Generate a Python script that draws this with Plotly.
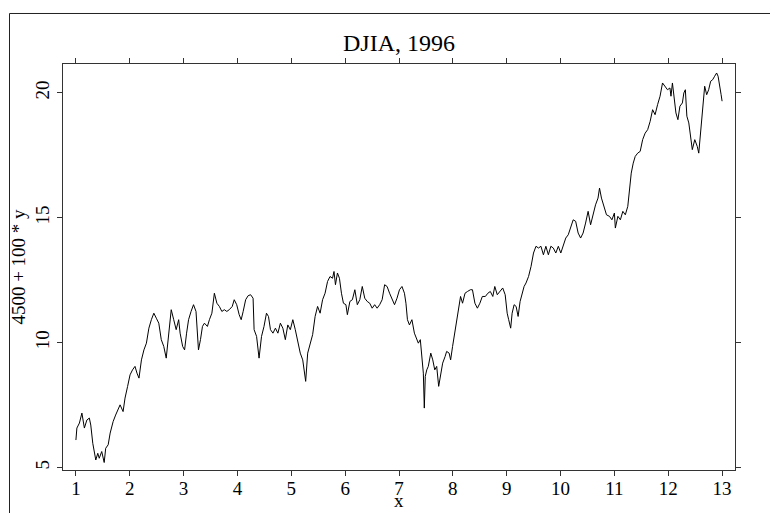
import plotly.graph_objects as go

x_vals = [1.000,1.018,1.065,1.111,1.157,1.203,1.249,1.276,1.313,1.341,1.369,1.406,1.433,1.479,1.525,1.553,1.599,1.636,1.691,1.737,
1.783,1.820,1.876,1.912,1.959,2.005,2.051,2.097,2.134,2.171,2.217,2.263,2.309,2.355,2.401,2.447,2.493,2.539,2.585,2.631,
2.677,2.724,2.770,2.816,2.862,2.908,2.935,2.982,3.018,3.055,3.092,3.138,3.184,3.230,3.276,3.313,3.350,3.387,3.442,3.479,
3.525,3.571,3.618,3.664,3.710,3.756,3.802,3.848,3.903,3.940,3.986,4.032,4.069,4.106,4.152,4.198,4.244,4.290,4.309,4.355,
4.382,4.401,4.447,4.493,4.539,4.576,4.613,4.659,4.705,4.751,4.797,4.843,4.889,4.935,4.982,5.028,5.074,5.120,5.166,5.212,
5.240,5.267,5.304,5.350,5.396,5.442,5.488,5.535,5.581,5.627,5.673,5.719,5.765,5.793,5.820,5.857,5.894,5.931,5.968,6.014,
6.041,6.088,6.134,6.180,6.226,6.272,6.318,6.364,6.410,6.456,6.502,6.548,6.594,6.641,6.687,6.733,6.779,6.825,6.871,6.917,
6.963,7.009,7.055,7.101,7.129,7.157,7.194,7.240,7.286,7.332,7.359,7.396,7.424,7.452,7.470,7.488,7.516,7.544,7.590,7.627,
7.664,7.700,7.737,7.774,7.811,7.857,7.885,7.931,7.959,7.995,8.032,8.069,8.106,8.143,8.180,8.226,8.272,8.327,8.364,8.410,
8.456,8.502,8.548,8.604,8.650,8.696,8.742,8.779,8.825,8.880,8.926,8.972,9.009,9.037,9.074,9.101,9.138,9.175,9.212,9.249,
9.286,9.323,9.359,9.406,9.452,9.498,9.544,9.590,9.636,9.682,9.728,9.774,9.820,9.866,9.912,9.959,10.005,10.051,10.097,10.143,
10.189,10.235,10.281,10.327,10.373,10.419,10.465,10.512,10.558,10.604,10.650,10.696,10.724,10.760,10.806,10.853,10.908,10.954,11.000,11.018,
11.065,11.111,11.157,11.203,11.249,11.276,11.313,11.350,11.387,11.433,11.479,11.525,11.571,11.618,11.664,11.710,11.756,11.802,11.848,11.894,
11.940,11.986,12.032,12.051,12.078,12.106,12.143,12.180,12.217,12.263,12.290,12.318,12.346,12.382,12.419,12.447,12.493,12.539,12.567,12.604,
12.641,12.677,12.714,12.751,12.788,12.825,12.862,12.899,12.926,12.954,12.982,13.000]

y_vals = [6.10,6.58,6.78,7.18,6.58,6.90,6.98,6.70,5.97,5.70,5.30,5.57,5.37,5.64,5.20,5.77,5.91,6.38,6.84,7.10,
7.37,7.51,7.24,7.78,8.24,8.71,8.91,9.05,8.78,8.58,9.31,9.71,9.98,10.58,10.92,11.18,10.98,10.78,10.12,9.85,
9.38,10.38,11.32,10.92,10.52,10.92,10.38,9.85,9.71,10.38,10.92,11.25,11.52,11.25,9.71,10.12,10.65,10.78,10.65,10.92,
11.18,11.98,11.58,11.45,11.25,11.32,11.25,11.32,11.45,11.72,11.52,11.12,10.92,11.25,11.72,11.88,11.92,11.78,10.52,10.25,
9.71,9.38,10.25,10.65,11.18,11.05,10.52,10.38,10.58,10.38,10.78,10.58,10.12,10.71,10.52,10.92,10.52,9.98,9.58,9.31,
8.91,8.45,9.58,9.98,10.32,11.05,11.45,11.18,11.72,11.98,12.45,12.65,12.58,12.85,12.32,12.79,12.58,11.98,11.58,11.52,
11.12,11.65,11.72,12.12,11.52,11.72,12.25,11.78,11.65,11.58,11.38,11.52,11.38,11.52,11.72,12.32,12.25,11.98,11.72,11.52,
11.78,12.12,12.25,11.98,11.58,10.92,10.71,10.92,10.38,10.12,9.98,10.12,9.58,8.78,7.38,8.65,8.91,9.05,9.58,9.31,
8.91,9.05,8.25,8.65,9.18,9.45,9.65,9.58,9.31,9.85,10.38,10.92,11.32,11.85,11.58,11.98,12.05,12.12,12.12,11.58,
11.38,11.58,11.85,11.85,11.98,12.05,11.85,12.25,11.92,12.05,12.19,11.92,11.18,10.92,10.58,11.18,11.52,11.45,11.05,11.65,
11.98,12.25,12.39,12.65,13.05,13.59,13.86,13.79,13.86,13.52,13.86,13.52,13.86,13.79,13.59,13.86,13.59,13.86,14.19,14.32,
14.66,14.92,14.86,14.39,14.19,14.39,14.79,15.26,14.72,15.19,15.52,15.79,16.19,15.79,15.46,15.12,15.06,14.92,15.19,14.59,
15.06,14.92,15.26,15.12,15.46,16.12,16.79,17.19,17.46,17.59,17.66,18.13,18.39,18.53,18.86,19.33,19.13,19.53,19.87,20.40,
20.27,20.13,20.20,19.87,20.40,19.87,19.20,18.93,19.47,19.60,20.00,20.13,19.07,18.80,18.26,17.73,18.13,17.86,17.59,18.39,
19.20,20.27,19.93,20.13,20.47,20.53,20.67,20.80,20.67,20.20,19.93,19.67]

x_ticks = [1, 2, 3, 4, 5, 6, 7, 8, 9, 10, 11, 12, 13]
y_ticks = [5, 10, 15, 20]

font_family = "Liberation Serif"
axis_color = "#333333"

fig = go.Figure(go.Scatter(x=x_vals, y=y_vals, mode="lines",
                           line=dict(color="black", width=1), showlegend=False))

fig.update_layout(
    template="none",
    width=770, height=505,
    margin=dict(l=55, r=43, t=56, b=43, autoexpand=False),
    paper_bgcolor="white", plot_bgcolor="white",
    font=dict(family=font_family, size=19, color="black"),
    title=dict(text="DJIA, 1996", x=0.5, xanchor="center", xref="paper",
               y=0.9307, yanchor="middle", yref="container",
               font=dict(family=font_family, size=24, color="black")),
    xaxis=dict(range=[0.76, 13.24], tickvals=x_ticks, ticks="outside", ticklen=5,
               tickcolor=axis_color, showline=True, linecolor=axis_color, linewidth=1,
               mirror="ticks", showgrid=False, zeroline=False, automargin=False,
               ticklabelstandoff=-4,
               tickfont=dict(size=19)),
    yaxis=dict(range=[4.9, 21.16], tickvals=y_ticks, ticks="outside", ticklen=5,
               tickcolor=axis_color, showline=True, linecolor=axis_color, linewidth=1,
               mirror="ticks", showgrid=False, zeroline=False, tickangle=-90, automargin=False,
               title=dict(text="4500 + 100 * y", standoff=6, font=dict(size=19)),
               tickfont=dict(size=19)),
    annotations=[dict(text="x", xref="paper", yref="paper", x=0.5, y=-0.1059,
                      xanchor="center", yanchor="bottom", showarrow=False,
                      font=dict(family=font_family, size=19, color="black"))],
    shapes=[dict(type="rect", xref="paper", yref="paper",
                 x0=-0.0796, x1=1.3, y0=-0.3, y1=1.1244,
                 line=dict(color="#222222", width=1), fillcolor="rgba(0,0,0,0)", layer="below")],
)

fig.write_html("out.html")
